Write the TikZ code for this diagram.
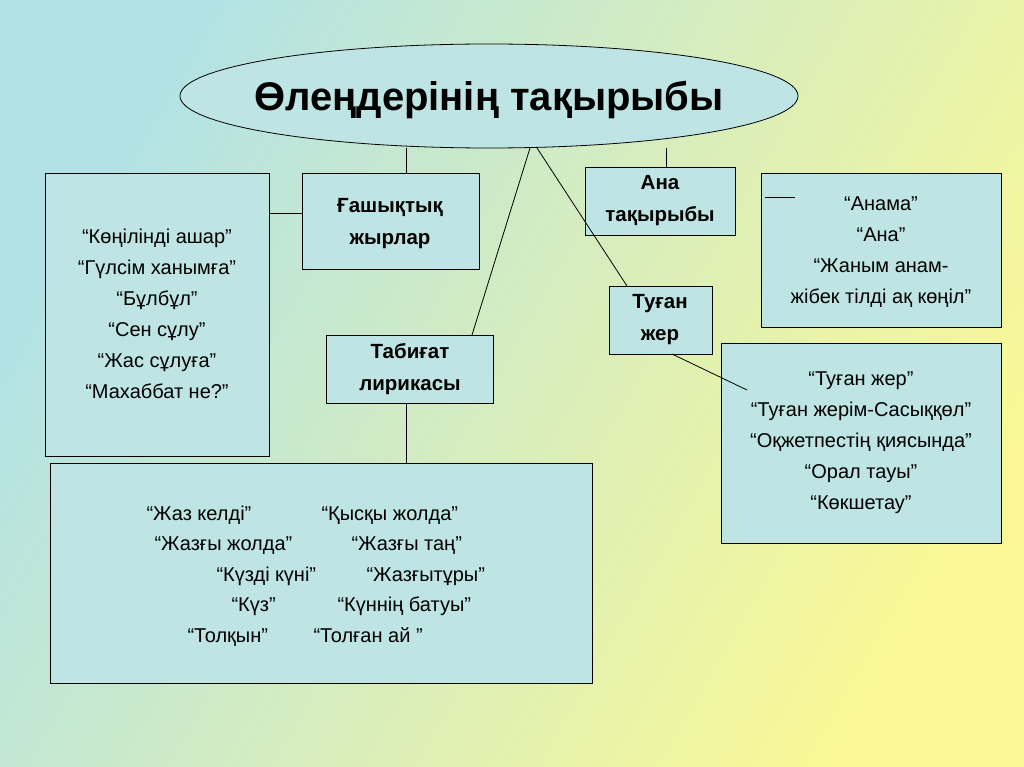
\documentclass[tikz,border=0pt]{standalone}
\usepackage{fontspec}
\setmainfont{Liberation Sans}
\definecolor{boxc}{RGB}{190,228,228}
\definecolor{bgblue}{RGB}{178,226,230}
\definecolor{bgyellow}{RGB}{250,248,150}
\begin{document}
\begin{tikzpicture}[x=1pt,y=-1pt,
  box/.style={draw=black,fill=boxc,line width=0.8pt,inner sep=0pt},
  ln/.style={line width=0.8pt},
  txt/.style={font=\fontsize{20}{31}\selectfont,align=center},
  bt/.style={font=\bfseries\fontsize{20.5}{32}\selectfont,align=center}]
\shade[left color=bgblue,right color=bgyellow,shading angle=60] (0,0) rectangle (1024,767);
\useasboundingbox (0,0) rectangle (1024,767);
\draw[fill=boxc,line width=0.8pt] (489,96) ellipse [x radius=309,y radius=52];
\node[font=\bfseries\fontsize{40}{44}\selectfont] (t) at (489,100) {Өлеңдерінің тақырыбы};
\draw[box] (45,173) rectangle (269,456);
\node[txt] (l) at (157,314) {“Көңілінді ашар”\\“Гүлсім ханымға”\\“Бұлбұл”\\“Сен сұлу”\\“Жас сұлуға”\\“Махаббат не?”};
\draw[box] (302,173) rectangle (479,269); \node[bt] (g) at (390,224) {Ғашықтық\\жырлар};
\draw[box] (585,167) rectangle (735,235); \node[bt] (a) at (660,201) {Ана\\тақырыбы};
\draw[box] (761,173) rectangle (1001,327);
\node[txt] (al) at (881,252) {“Анама”\\“Ана”\\“Жаным анам-\\жібек тілді ақ көңіл”};
\draw[box] (609,286) rectangle (712,354); \node[bt] (tj) at (660,320) {Туған\\жер};
\draw[box] (326,335) rectangle (493,403); \node[bt] (tb) at (410,369) {Табиғат\\лирикасы};
\draw[box] (721,343) rectangle (1001,543);
\node[txt] (tl) at (861,443) {“Туған жер”\\“Туған жерім-Сасыққөл”\\“Оқжетпестің қиясында”\\“Орал тауы”\\“Көкшетау”};
\draw[box] (50,463) rectangle (592,683);
\begin{scope}[every node/.style={anchor=base west,font=\fontsize{20}{24}\selectfont}]
\node at (143,520) {“Жаз келді”};\node at (318,520) {“Қысқы жолда”};
\node at (151,550) {“Жазғы жолда”};\node at (348,550) {“Жазғы таң”};
\node at (213,581) {“Күзді күні”};\node at (363,581) {“Жазғытұры”};
\node at (228,611) {“Күз”};\node at (334,611) {“Күннің батуы”};
\node at (184,642) {“Толқын”};\node at (310,642) {“Толған ай ”};
\end{scope}
\draw[ln] (406,148)--(406,173);
\draw[ln] (269,213)--(302,213);
\draw[ln] (530,148)--(472,335);
\draw[ln] (537,148)--(627,286);
\draw[ln] (666,148)--(666,167);
\draw[ln] (765,197)--(795,197);
\draw[ln] (672,354)--(747,390);
\draw[ln] (406,403)--(406,463);
\end{tikzpicture}
\end{document}
